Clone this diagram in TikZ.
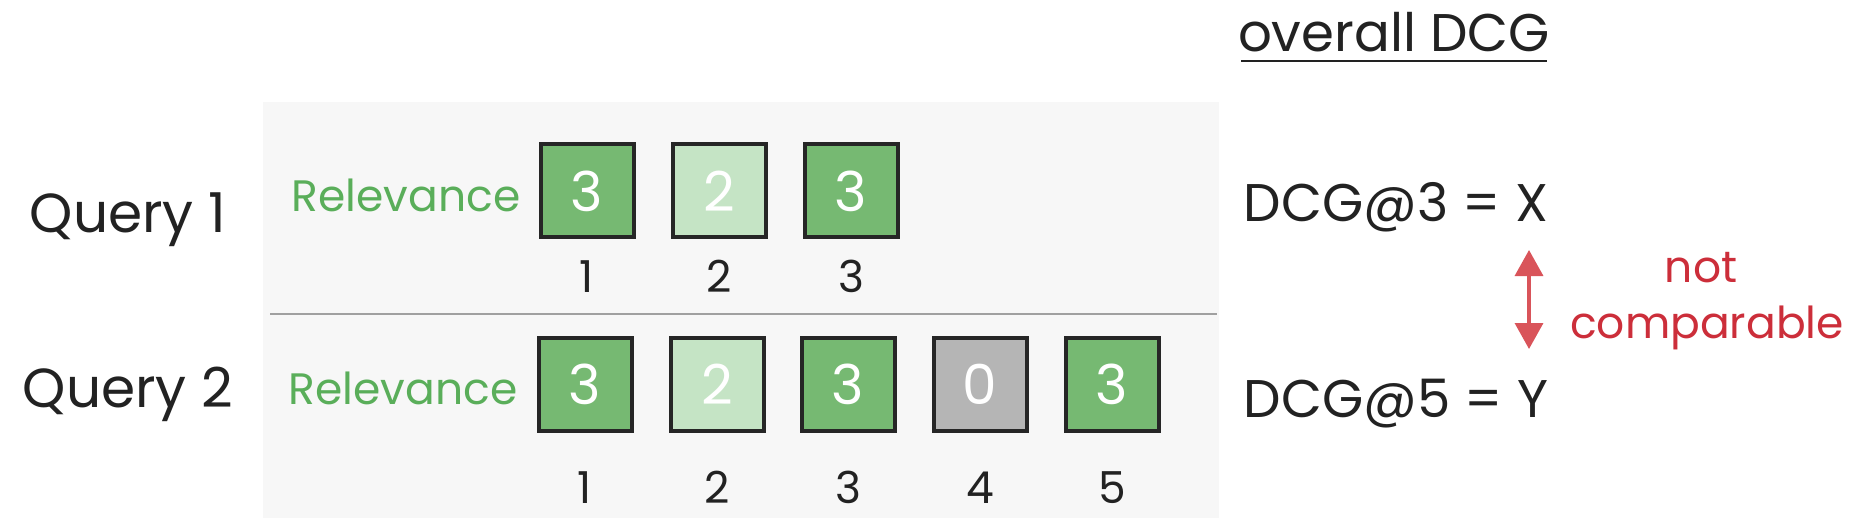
\documentclass[tikz,border=0pt]{standalone}
\usepackage{fontspec}
\setmainfont{Poppins}
\usetikzlibrary{arrows.meta}
\definecolor{panelbg}{HTML}{F7F7F7}
\definecolor{divgray}{HTML}{A0A0A0}
\definecolor{gdark}{HTML}{76B972}
\definecolor{glight}{HTML}{C5E4C5}
\definecolor{gzero}{HTML}{B5B5B5}
\definecolor{reltext}{HTML}{5AAE5A}
\definecolor{txt}{HTML}{222222}
\definecolor{redarrow}{HTML}{D9545A}
\definecolor{redtext}{HTML}{CC2E3A}
\newcommand{\fsQ}{\fontsize{55}{60}\selectfont}
\newcommand{\fsD}{\fontsize{53}{58}\selectfont}
\newcommand{\fsR}{\fontsize{44}{48}\selectfont}
\newcommand{\fsB}{\fontsize{55}{60}\selectfont}
\newcommand{\fsN}{\fontsize{44}{48}\selectfont}
\newcommand{\fsO}{\fontsize{53}{58}\selectfont}
\newcommand{\fsC}{\fontsize{44}{48}\selectfont}
\tikzset{
  relbox/.style={draw=black!85, line width=4pt, minimum size=93pt, inner sep=0pt, text=white, font=\fsB},
  posnum/.style={anchor=base, text=txt, font=\fsN},
  qlabel/.style={anchor=base, text=txt, font=\fsQ},
  rellabel/.style={anchor=base, text=reltext, font=\fsR},
  dcglabel/.style={anchor=base, text=txt, font=\fsD},
  redlabel/.style={anchor=base, text=redtext, font=\fsC}
}
\begin{document}
\begin{tikzpicture}[x=1pt,y=-1pt]
\useasboundingbox (0,0) rectangle (1870,529);
\fill[white] (0,0) rectangle (1870,529);
% panel
\node[fill=panelbg, minimum width=956pt, minimum height=416pt, inner sep=0pt, anchor=north west] (panel) at (263,102) {};
\coordinate (dl) at (270,314);
\coordinate (dr) at (1217,314);
\draw[divgray, line width=1.5pt] (dl) -- (dr);
% query labels
\node[qlabel] (q1) at (128,233) {Query 1};
\node[qlabel] (q2) at (128,407) {Query 2};
% relevance labels
\node[rellabel] (rel1) at (406,212) {Relevance};
\node[rellabel] (rel2) at (403,404) {Relevance};
% row 1
\node[relbox, fill=gdark]  (a1) at (587,191) {3};
\node[relbox, fill=glight] (a2) at (719,191) {2};
\node[relbox, fill=gdark]  (a3) at (851,191) {3};
\node[posnum] (pa1) at (587,292) {1};
\node[posnum] (pa2) at (719,292) {2};
\node[posnum] (pa3) at (851,292) {3};
% row 2
\node[relbox, fill=gdark]  (b1) at (585,384) {3};
\node[relbox, fill=glight] (b2) at (717,384) {2};
\node[relbox, fill=gdark]  (b3) at (848,384) {3};
\node[relbox, fill=gzero]  (b4) at (980,384) {0};
\node[relbox, fill=gdark]  (b5) at (1112,384) {3};
\node[posnum] (pb1) at (585,503) {1};
\node[posnum] (pb2) at (717,503) {2};
\node[posnum] (pb3) at (848,503) {3};
\node[posnum] (pb4) at (980,503) {4};
\node[posnum] (pb5) at (1112,503) {5};
% right side
\node[anchor=base, text=txt, font=\fsO, inner sep=0pt] (ov) at (1394,52) {overall DCG};
\coordinate (ul) at (1241,61);
\coordinate (ur) at (1547,61);
\draw[txt, line width=2.5pt] (ul) -- (ur);
\node[dcglabel] (d3) at (1396,222) {DCG@3 = X};
\node[dcglabel] (d5) at (1396,417) {DCG@5 = Y};
\coordinate (at) at (1529,250);
\coordinate (ab) at (1529,349);
\draw[redarrow, line width=3.5pt, {Triangle[width=28pt,length=26pt]}-{Triangle[width=28pt,length=26pt]}] (at) -- (ab);
\node[redlabel] (nt) at (1701,282) {not};
\node[redlabel] (cp) at (1707,338) {comparable};
\end{tikzpicture}
\end{document}
